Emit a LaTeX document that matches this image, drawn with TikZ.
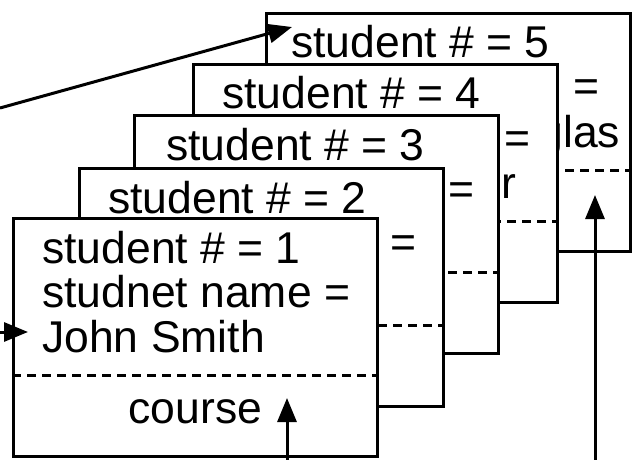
\documentclass[tikz,border=0pt]{standalone}
\usepackage{fontspec}
\setmainfont{Liberation Sans}
\usetikzlibrary{arrows.meta,calc}

\begin{document}
\begin{tikzpicture}[
  x=1pt, y=-1pt,
  font=\fontsize{44.5}{44.5}\selectfont,
  card/.style={draw, line width=3pt, fill=white, minimum width=364pt,
               minimum height=238pt, anchor=north west, inner sep=0pt},
  sep/.style={line width=3pt, dash pattern=on 9pt off 6pt},
  txt/.style={anchor=base west, inner sep=0pt},
  arr/.style={-{Triangle[length=24pt, width=19pt]}, line width=3pt}
]
\useasboundingbox (0,0) rectangle (635,460);

% ---------------- five record cards, back to front ----------------
\foreach \n/\x/\y/\tx/\who in {5/265/12/26/Michael Douglas, 4/192/63/30/Michelle Taylor,
    3/133/114/33/Peter Jackson, 2/78/167/30/Mary Brown, 1/12/217/30/John Smith}{
  \node[card] (c\n) at (\x,\y) {};
  \draw[sep] ($(c\n.north west)+(0,158)$) -- ($(c\n.north east)+(0,158)$);
  \node[txt] (num\n) at ($(c\n.north west)+(\tx,46)$) {student \# = \n};
  \node[txt] (nm\n) at ($(c\n.north west)+(\tx,90)$) {studnet name =};
  \node[txt] (who\n) at ($(c\n.north west)+(\tx,135)$) {\who};
  \node[anchor=base, inner sep=0pt] (crs\n) at ($(c\n.north)+(0,206)$) {course};
}

% ---------------- pointers into the list ----------------
\coordinate (src5) at (0,108);
\coordinate (src1) at (0,332);
\draw[arr] (src5) -- ($(c5.north west)+(27,15)$);
\draw[arr] (src1) -- ($(c1.north west)+(16,115)$);

\coordinate (tip1) at ($(c1.north west)+(275,181)$);
\coordinate (tip5) at ($(c5.north west)+(330,183)$);
\coordinate (bot1) at (tip1 |- 0,460);
\coordinate (bot5) at (tip5 |- 0,460);
\draw[arr] (bot1) -- (tip1);
\draw[arr] (bot5) -- (tip5);

\end{tikzpicture}
\end{document}
